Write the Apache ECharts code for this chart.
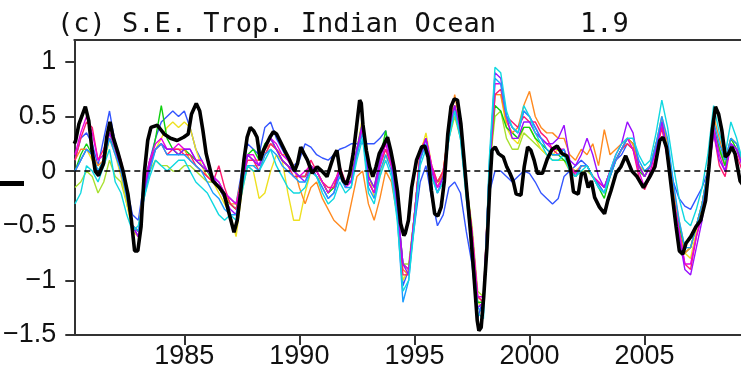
<!DOCTYPE html>
<html>
<head>
<meta charset="utf-8">
<script src="https://cdn.jsdelivr.net/npm/echarts@6/dist/echarts.min.js"></script>
<style>
  html, body { margin: 0; padding: 0; background: #fff; }
  #chart { width: 741px; height: 382px; }
</style>
</head>
<body>
<div id="chart"></div>
<script>
// x ticks / y ticks
const yearTicks = [1985, 1990, 1995, 2000, 2005];
const valueTicks = [-1.5, -1, -0.5, 0, 0.5, 1];

// quarterly time axis for the thin ensemble lines (1980.25 .. 2009.25)
const quarterTimes = [];
for (let i = 0; i < 117; i++) quarterTimes.push(1980.25 + i * 0.25);

// thin lines, one value per quarter (4 per row, row = year)
const blueVals = [
  0.1, 0.3, 0.35, 0.25,   0.05, 0.3, 0.55, 0.25,   0.05, -0.15, -0.4, -0.45,   -0.1, 0.1, 0.3, 0.45,
  0.5, 0.55, 0.5, 0.55,   0.4, 0.2, 0.1, 0.0,   -0.05, -0.1, -0.2, -0.25,   -0.3, 0.0, 0.25, 0.2,
  0.15, 0.4, 0.45, 0.3,   0.2, 0.1, 0.05, 0.1,   0.25, 0.22, 0.15, 0.12,   0.1, 0.15, 0.2, 0.22,
  0.25, 0.25, 0.25, 0.25,   0.25, 0.3, 0.37, 0.1,   -0.3, -1.05, -0.9, -0.5,   -0.1, 0.05, -0.25, -0.5,
  -0.4, -0.15, -0.1, -0.2,   -0.55, -0.85, -1.35, -1.15,   -0.2, 0.0, 0.0, -0.05,   -0.1, -0.05, 0.0, -0.02,
  -0.1, -0.2, -0.25, -0.3,   -0.25, -0.05, 0.0, 0.05,   0.1, 0.05, -0.05, -0.12,   -0.2, -0.05, 0.1, 0.15,
  0.25, 0.2, 0.05, -0.05,   0.05, 0.25, 0.4, 0.2,   -0.1, -0.25, -0.32, -0.35,   -0.25, -0.15, 0.0, 0.35,
  0.2, 0.05, 0.25, 0.2,   0.05
];
const cyanVals = [
  -0.3, -0.2, 0.05, 0.0,   -0.1, 0.05, 0.2, -0.1,   -0.2, -0.4, -0.55, -0.5,   -0.25, -0.05, 0.1, 0.05,
  0.0, 0.05, 0.1, 0.1,   0.0, -0.1, -0.15, -0.2,   -0.3, -0.4, -0.45, -0.4,   -0.45, -0.2, 0.05, 0.0,
  0.0, 0.1, 0.2, 0.05,   -0.05, -0.15, -0.2, -0.2,   -0.15, 0.0, -0.05, -0.2,   -0.3, -0.25, -0.1, -0.2,
  -0.15, 0.1, 0.3, -0.2,   -0.3, -0.05, 0.1, -0.05,   -0.45, -1.1, -1.0, -0.5,   0.05, 0.2, -0.05, -0.2,
  -0.1, 0.3, 0.55, 0.3,   -0.25, -0.7, -1.3, -1.35,   0.1, 0.95, 0.9, 0.55,   0.4, 0.35, 0.6, 0.5,
  0.35, 0.25, 0.15, 0.1,   0.1, 0.15, 0.0, -0.05,   0.0, 0.05, -0.05, -0.15,   -0.2, 0.0, 0.15, 0.25,
  0.3, 0.3, 0.15, 0.05,   0.1, 0.35, 0.65, 0.4,   0.05, -0.25, -0.45, -0.5,   -0.35, -0.15, 0.15, 0.6,
  0.35, 0.15, 0.45, 0.3,   0.1
];
const skyVals = [
  0.0, 0.1, 0.2, 0.15,   0.0, 0.1, 0.3, 0.15,   0.0, -0.25, -0.5, -0.55,   -0.25, 0.0, 0.2, 0.25,
  0.15, 0.15, 0.15, 0.15,   0.1, 0.05, 0.0, -0.1,   -0.2, -0.25, -0.35, -0.4,   -0.4, -0.15, 0.05, 0.05,
  0.0, 0.15, 0.2, 0.15,   0.05, 0.0, -0.05, -0.1,   -0.1, 0.0, -0.05, -0.15,   -0.25, -0.2, -0.05, -0.15,
  -0.15, 0.15, 0.35, -0.15,   -0.25, 0.0, 0.15, 0.0,   -0.4, -1.2, -1.0, -0.45,   0.1, 0.25, -0.05, -0.2,
  -0.1, 0.3, 0.55, 0.3,   -0.2, -0.7, -1.25, -1.3,   0.05, 0.85, 0.8, 0.5,   0.4, 0.35, 0.55, 0.5,
  0.4, 0.3, 0.2, 0.15,   0.15, 0.2, 0.0, -0.05,   0.05, 0.05, -0.05, -0.15,   -0.2, -0.05, 0.1, 0.2,
  0.3, 0.3, 0.1, 0.0,   0.05, 0.25, 0.5, 0.3,   -0.1, -0.45, -0.7, -0.7,   -0.5, -0.3, 0.0, 0.45,
  0.25, 0.1, 0.3, 0.25,   0.1
];
const purpleVals = [
  0.0, 0.1, 0.2, 0.15,   -0.05, 0.1, 0.35, 0.2,   0.0, -0.2, -0.5, -0.6,   -0.2, 0.05, 0.2, 0.25,
  0.2, 0.2, 0.15, 0.2,   0.2, 0.1, 0.05, 0.0,   -0.05, -0.15, -0.25, -0.35,   -0.4, -0.1, 0.15, 0.1,
  0.05, 0.2, 0.3, 0.2,   0.1, 0.05, 0.0, -0.05,   -0.1, 0.05, -0.05, -0.15,   -0.25, -0.2, 0.0, -0.1,
  -0.1, 0.2, 0.45, -0.05,   -0.15, 0.1, 0.3, 0.1,   -0.3, -0.85, -0.95, -0.45,   0.1, 0.3, 0.0, -0.2,
  -0.05, 0.35, 0.6, 0.35,   -0.15, -0.65, -1.25, -1.2,   0.0, 0.9, 0.85, 0.5,   0.3, 0.3, 0.45, 0.45,
  0.35, 0.3, 0.25, 0.25,   0.3, 0.42, 0.1, 0.05,   0.15, 0.3, 0.15, -0.05,   -0.15, 0.0, 0.15, 0.25,
  0.45, 0.35, 0.05, -0.05,   0.05, 0.2, 0.45, 0.15,   -0.25, -0.6, -0.9, -0.95,   -0.7, -0.45, -0.05, 0.35,
  0.1, 0.0, 0.25, 0.2,   0.05
];
const magentaVals = [
  0.15, 0.35, 0.5, 0.35,   0.1, 0.15, 0.4, 0.25,   0.05, -0.2, -0.5, -0.6,   -0.2, 0.1, 0.25, 0.3,
  0.2, 0.2, 0.25, 0.2,   0.2, 0.1, 0.1, 0.0,   -0.05, -0.1, -0.2, -0.25,   -0.3, -0.1, 0.15, 0.15,
  0.05, 0.2, 0.3, 0.25,   0.15, 0.1, 0.0, -0.05,   0.0, 0.05, 0.0, -0.1,   -0.2, -0.1, 0.0, -0.15,
  -0.1, 0.2, 0.4, -0.1,   -0.2, 0.05, 0.25, 0.05,   -0.3, -0.85, -0.9, -0.4,   0.15, 0.3, 0.05, -0.15,
  -0.05, 0.35, 0.6, 0.35,   -0.15, -0.55, -1.15, -1.15,   0.0, 0.8, 0.8, 0.5,   0.4, 0.35, 0.55, 0.5,
  0.4, 0.3, 0.25, 0.2,   0.2, 0.2, 0.05, -0.02,   0.05, 0.05, -0.05, -0.1,   -0.15, 0.0, 0.1, 0.2,
  0.3, 0.2, 0.0, -0.15,   0.0, 0.2, 0.45, 0.15,   -0.25, -0.55, -0.85, -0.85,   -0.6, -0.4, -0.05, 0.4,
  0.15, 0.0, 0.25, 0.2,   0.05
];
const pinkVals = [
  0.1, 0.3, 0.45, 0.4,   0.1, 0.2, 0.35, 0.25,   0.1, -0.15, -0.5, -0.55,   -0.15, 0.1, 0.2, 0.25,
  0.15, 0.2, 0.2, 0.15,   0.15, 0.05, 0.0, -0.05,   -0.1, 0.05, -0.15, -0.3,   -0.35, -0.1, 0.1, 0.1,
  0.0, 0.15, 0.25, 0.2,   0.1, 0.05, -0.05, -0.05,   -0.05, 0.1, 0.0, -0.1,   -0.15, -0.15, 0.05, -0.1,
  -0.1, 0.15, 0.4, -0.1,   -0.2, 0.05, 0.2, 0.05,   -0.35, -0.95, -0.95, -0.4,   0.15, 0.3, 0.05, -0.1,
  0.0, 0.4, 0.6, 0.35,   -0.1, -0.55, -1.15, -1.2,   -0.05, 0.7, 0.75, 0.5,   0.45, 0.4, 0.5, 0.45,
  0.45, 0.35, 0.3, 0.2,   0.15, 0.2, 0.05, -0.05,   0.05, 0.05, -0.05, -0.1,   -0.15, 0.0, 0.1, 0.2,
  0.25, 0.2, -0.05, -0.17,   -0.05, 0.15, 0.4, 0.1,   -0.25, -0.55, -0.85, -0.9,   -0.6, -0.4, -0.05, 0.35,
  0.05, -0.05, 0.25, 0.15,   0.0
];
const orangeVals = [
  0.1, 0.2, 0.2, 0.15,   0.05, 0.1, 0.35, 0.2,   0.0, -0.25, -0.5, -0.55,   -0.2, 0.05, 0.2, 0.25,
  0.2, 0.2, 0.2, 0.2,   0.1, 0.05, 0.0, -0.05,   -0.1, -0.15, -0.2, -0.3,   -0.3, -0.05, 0.15, 0.1,
  0.1, 0.2, 0.25, 0.2,   0.15, 0.15, 0.05, -0.15,   -0.3, -0.15, -0.1, -0.25,   -0.35, -0.45, -0.5, -0.55,
  -0.3, -0.05, 0.0, -0.3,   -0.45, -0.25, 0.0, -0.1,   -0.4, -0.9, -0.95, -0.4,   0.2, 0.3, 0.0, -0.15,
  0.0, 0.4, 0.7, 0.4,   -0.1, -0.55, -1.15, -1.2,   0.0, 0.7, 0.7, 0.45,   0.35, 0.4, 0.6, 0.73,
  0.5, 0.4, 0.35, 0.35,   0.3, 0.3, 0.15, 0.1,   0.2, 0.15, 0.25, 0.05,   0.38, 0.15, 0.2, 0.25,
  0.3, 0.25, 0.05, -0.05,   0.05, 0.25, 0.5, 0.25,   -0.15, -0.55, -0.75, -0.7,   -0.5, -0.3, 0.0, 0.5,
  0.3, 0.1, 0.3, 0.25,   0.1
];
const yellowVals = [
  0.0, 0.1, 0.2, 0.1,   -0.05, 0.05, 0.3, 0.15,   -0.05, -0.3, -0.55, -0.6,   -0.2, 0.05, 0.2, 0.3,
  0.4, 0.45, 0.4, 0.45,   0.4, 0.2, 0.05, -0.05,   -0.1, -0.2, -0.3, -0.4,   -0.6, -0.2, 0.05, 0.0,
  -0.25, -0.2, 0.0, 0.15,   0.1, -0.2, -0.45, -0.45,   -0.2, 0.0, -0.05, -0.1,   -0.2, -0.1, 0.0, -0.1,
  -0.05, 0.2, 0.5, 0.0,   -0.25, -0.05, 0.15, 0.05,   -0.35, -1.0, -0.9, -0.4,   0.15, 0.35, 0.05, -0.1,
  0.0, 0.4, 0.6, 0.35,   -0.15, -0.55, -1.2, -1.25,   -0.1, 0.7, 0.7, 0.4,   0.3, 0.25, 0.4, 0.4,
  0.3, 0.2, 0.15, 0.15,   0.2, 0.15, 0.05, 0.0,   0.05, 0.05, -0.05, -0.1,   -0.15, 0.0, 0.1, 0.2,
  0.3, 0.25, 0.05, 0.0,   0.05, 0.2, 0.45, 0.2,   -0.2, -0.5, -0.75, -0.8,   -0.55, -0.3, 0.0, 0.4,
  0.2, 0.05, 0.25, 0.2,   0.05
];
const greenVals = [
  0.0, 0.15, 0.25, 0.15,   0.0, 0.1, 0.3, 0.2,   0.0, -0.2, -0.5, -0.55,   -0.2, 0.05, 0.3, 0.6,
  0.3, 0.2, 0.15, 0.2,   0.15, 0.1, 0.05, 0.0,   -0.1, -0.15, -0.25, -0.3,   -0.35, -0.1, 0.15, 0.2,
  0.1, 0.25, 0.3, 0.2,   0.1, 0.05, 0.0, -0.05,   -0.05, 0.05, 0.0, -0.1,   -0.2, -0.15, 0.0, -0.1,
  -0.1, 0.2, 0.45, -0.05,   -0.15, 0.1, 0.37, 0.05,   -0.3, -0.85, -0.9, -0.4,   0.15, 0.3, 0.0, -0.1,
  -0.05, 0.4, 0.6, 0.35,   -0.15, -0.6, -1.2, -1.2,   0.0, 0.6, 0.55, 0.4,   0.35, 0.3, 0.4, 0.4,
  0.3, 0.25, 0.2, 0.15,   0.15, 0.1, 0.05, -0.05,   0.05, 0.05, -0.05, -0.15,   -0.25, -0.05, 0.1, 0.2,
  0.3, 0.25, 0.0, -0.05,   0.05, 0.25, 0.45, 0.2,   -0.2, -0.5, -0.75, -0.7,   -0.5, -0.3, 0.0, 0.4,
  0.2, 0.05, 0.3, 0.2,   0.1
];
const limeVals = [
  -0.15, -0.1, 0.0, -0.05,   -0.2, -0.1, 0.1, -0.05,   -0.1, -0.3, -0.5, -0.55,   -0.1, 0.0, 0.1, 0.05,
  0.05, 0.0, 0.0, 0.05,   0.05, 0.0, -0.05, -0.1,   -0.1, -0.15, -0.25, -0.3,   -0.35, -0.1, 0.05, 0.05,
  0.05, 0.15, 0.25, 0.2,   0.1, 0.05, 0.0, -0.05,   -0.05, 0.05, 0.0, -0.1,   -0.2, -0.15, 0.0, -0.1,
  -0.1, 0.15, 0.4, -0.1,   -0.2, 0.05, 0.2, 0.05,   -0.3, -0.85, -0.85, -0.4,   0.15, 0.3, 0.0, -0.1,
  0.0, 0.3, 0.5, 0.3,   -0.1, -0.5, -1.1, -1.15,   0.0, 0.5, 0.55, 0.3,   0.2, 0.2, 0.35, 0.3,
  0.25, 0.2, 0.15, 0.1,   0.1, 0.1, 0.0, -0.05,   0.0, 0.0, -0.05, -0.1,   -0.15, 0.0, 0.1, 0.2,
  0.25, 0.2, 0.05, 0.0,   0.05, 0.2, 0.4, 0.2,   -0.15, -0.45, -0.7, -0.7,   -0.5, -0.3, 0.0, 0.4,
  0.2, 0.1, 0.3, 0.25,   0.1
];

// thick black line (observations)
const blackYears = [
  1980.22, 1980.28, 1980.42, 1980.70, 1980.85, 1980.99, 1981.13, 1981.27, 1981.49, 1981.63, 1981.77, 1981.91,
  1982.13, 1982.34, 1982.55, 1982.70, 1982.84, 1982.98, 1983.12, 1983.26, 1983.41, 1983.55, 1983.83, 1984.12,
  1984.40, 1984.69, 1984.97, 1985.17, 1985.31, 1985.52, 1985.67, 1985.81, 1985.95, 1986.09, 1986.24, 1986.38,
  1986.52, 1986.73, 1986.95, 1987.16, 1987.30, 1987.44, 1987.59, 1987.73, 1987.87, 1988.01, 1988.16, 1988.30,
  1988.44, 1988.58, 1988.72, 1988.87, 1989.01, 1989.15, 1989.36, 1989.58, 1989.79, 1989.92, 1990.06, 1990.20,
  1990.35, 1990.56, 1990.77, 1990.98, 1991.20, 1991.34, 1991.48, 1991.63, 1991.77, 1991.91, 1992.05, 1992.19,
  1992.34, 1992.48, 1992.62, 1992.69, 1992.76, 1992.91, 1993.05, 1993.19, 1993.33, 1993.47, 1993.62, 1993.83,
  1993.97, 1994.11, 1994.26, 1994.40, 1994.54, 1994.60, 1994.74, 1994.88, 1995.09, 1995.31, 1995.45, 1995.59,
  1995.74, 1995.88, 1996.02, 1996.16, 1996.30, 1996.45, 1996.59, 1996.73, 1996.87, 1997.02, 1997.16, 1997.30,
  1997.44, 1997.58, 1997.73, 1997.80, 1997.90, 1998.01, 1998.15, 1998.27, 1998.37, 1998.51, 1998.65, 1998.86,
  1999.01, 1999.15, 1999.29, 1999.42, 1999.63, 1999.77, 1999.92, 2000.06, 2000.20, 2000.34, 2000.56, 2000.77,
  2000.98, 2001.20, 2001.41, 2001.62, 2001.77, 2001.91, 2002.12, 2002.26, 2002.40, 2002.55, 2002.69, 2002.83,
  2003.04, 2003.26, 2003.40, 2003.54, 2003.76, 2003.97, 2004.18, 2004.24, 2004.45, 2004.67, 2004.95, 2005.23,
  2005.45, 2005.66, 2005.80, 2005.95, 2006.09, 2006.23, 2006.37, 2006.51, 2006.66, 2006.80, 2007.01, 2007.23,
  2007.44, 2007.65, 2007.80, 2007.94, 2008.08, 2008.22, 2008.36, 2008.51, 2008.65, 2008.79, 2008.93, 2009.15,
  2009.25
];
const blackVals = [
  0.25, 0.28, 0.43, 0.59, 0.46, 0.19, 0.0, -0.04, 0.07, 0.31, 0.45, 0.31,
  0.16, 0.0, -0.21, -0.45, -0.73, -0.73, -0.51, -0.02, 0.28, 0.40, 0.42, 0.34,
  0.30, 0.28, 0.31, 0.34, 0.52, 0.62, 0.55, 0.37, 0.16, 0.04, -0.09, -0.12,
  -0.15, -0.21, -0.39, -0.56, -0.45, -0.21, 0.10, 0.31, 0.40, 0.37, 0.31, 0.10,
  0.19, 0.25, 0.31, 0.36, 0.34, 0.28, 0.19, 0.10, 0.0, 0.07, 0.22, 0.16,
  0.10, -0.02, 0.04, 0.0, -0.05, 0.04, 0.13, 0.19, 0.0, -0.09, -0.12, -0.02,
  0.16, 0.40, 0.65, 0.62, 0.43, 0.19, 0.04, -0.05, 0.04, 0.16, 0.22, 0.31,
  0.19, 0.04, -0.18, -0.48, -0.59, -0.57, -0.45, -0.15, 0.10, 0.22, 0.23, 0.13,
  -0.18, -0.39, -0.41, -0.33, -0.09, 0.34, 0.59, 0.66, 0.65, 0.43, 0.10, -0.24,
  -0.57, -0.94, -1.37, -1.46, -1.43, -1.15, -0.70, -0.15, 0.19, 0.22, 0.16, 0.13,
  0.04, -0.02, -0.09, -0.21, -0.22, 0.04, 0.22, 0.19, 0.10, -0.02, -0.02, 0.11,
  0.20, 0.23, 0.16, 0.14, 0.04, -0.19, -0.21, -0.02, -0.02, -0.15, -0.09, -0.24,
  -0.33, -0.39, -0.27, -0.18, -0.02, 0.04, 0.14, 0.14, 0.0, -0.05, -0.15, -0.05,
  0.04, 0.28, 0.31, 0.22, -0.02, -0.27, -0.51, -0.73, -0.76, -0.66, -0.60, -0.51,
  -0.45, -0.27, 0.04, 0.37, 0.59, 0.52, 0.37, 0.13, 0.16, 0.22, 0.16, -0.09,
  -0.12
];

const thinLines = [
  { vals: blueVals, color: '#3355ff' },
  { vals: limeVals, color: '#a8e030' },
  { vals: yellowVals, color: '#eee020' },
  { vals: greenVals, color: '#10d010' },
  { vals: orangeVals, color: '#ff8a20' },
  { vals: pinkVals, color: '#ff1a70' },
  { vals: magentaVals, color: '#e800e0' },
  { vals: purpleVals, color: '#9a10ff' },
  { vals: skyVals, color: '#1a9cff' },
  { vals: cyanVals, color: '#10d8e0' }
];

const axisColor = '#333';
const labelFont = 'Liberation Sans';

let myChart = echarts.init(document.getElementById('chart'), null, { renderer: 'canvas' });

let series = thinLines.map(function (l) {
  return {
    type: 'line',
    data: quarterTimes.map(function (t, i) { return [t, l.vals[i]]; }),
    symbol: 'none',
    smooth: false,
    silent: true,
    lineStyle: { color: l.color, width: 1.4 },
    z: 2
  };
});
series.push({
  type: 'line',
  data: blackYears.map(function (t, i) { return [t, blackVals[i]]; }),
  symbol: 'none',
  silent: true,
  lineStyle: { color: '#000', width: 3.6 },
  z: 4,
  markLine: {
    silent: true,
    symbol: 'none',
    label: { show: false },
    lineStyle: { color: '#000', type: [6, 4], width: 1.6 },
    data: [{ yAxis: 0 }]
  }
});

let option = {
  animation: false,
  backgroundColor: '#fff',
  title: [
    {
      text: '(c) S.E. Trop. Indian Ocean',
      left: 57,
      top: 11,
      padding: 0,
      textStyle: { fontFamily: 'DejaVu Sans Mono', fontSize: 27, fontWeight: 'normal', color: '#111' }
    },
    {
      text: '1.9',
      left: 580,
      top: 11,
      padding: 0,
      textStyle: { fontFamily: 'DejaVu Sans Mono', fontSize: 27, fontWeight: 'normal', color: '#111' }
    }
  ],
  grid: { left: 62, right: 0, top: 40, bottom: 47, containLabel: false },
  xAxis: [
    {
      type: 'value',
      min: 1980.22,
      max: 2009.19,
      position: 'bottom',
      splitLine: { show: false },
      axisLine: { show: true, onZero: false, lineStyle: { color: axisColor, width: 2 } },
      axisTick: { show: true, inside: false, length: 10, lineStyle: { color: axisColor, width: 2 }, customValues: yearTicks },
      axisLabel: {
        margin: 8,
        color: '#111',
        fontFamily: labelFont,
        fontSize: 27,
        customValues: yearTicks,
        formatter: function (v) { return String(v); }
      }
    },
    {
      type: 'value',
      min: 1980.22,
      max: 2009.19,
      position: 'top',
      splitLine: { show: false },
      axisLine: { show: true, onZero: false, lineStyle: { color: axisColor, width: 2 } },
      axisTick: { show: false },
      axisLabel: { show: false }
    }
  ],
  yAxis: {
    type: 'value',
    min: -1.5,
    max: 1.2,
    splitLine: { show: false },
    axisLine: { show: true, onZero: false, lineStyle: { color: axisColor, width: 2 } },
    axisTick: { show: true, inside: false, length: 9, lineStyle: { color: axisColor, width: 2 }, customValues: valueTicks },
    axisLabel: {
      margin: 18,
      color: '#111',
      fontFamily: labelFont,
      fontSize: 27,
      customValues: valueTicks,
      formatter: function (v) { return String(v).replace('-', '\u2212'); }
    }
  },
  graphic: [
    { type: 'rect', shape: { x: 0, y: 181, width: 24, height: 5 }, style: { fill: '#000' } }
  ],
  series: series
};

myChart.setOption(option);
</script>
</body>
</html>
